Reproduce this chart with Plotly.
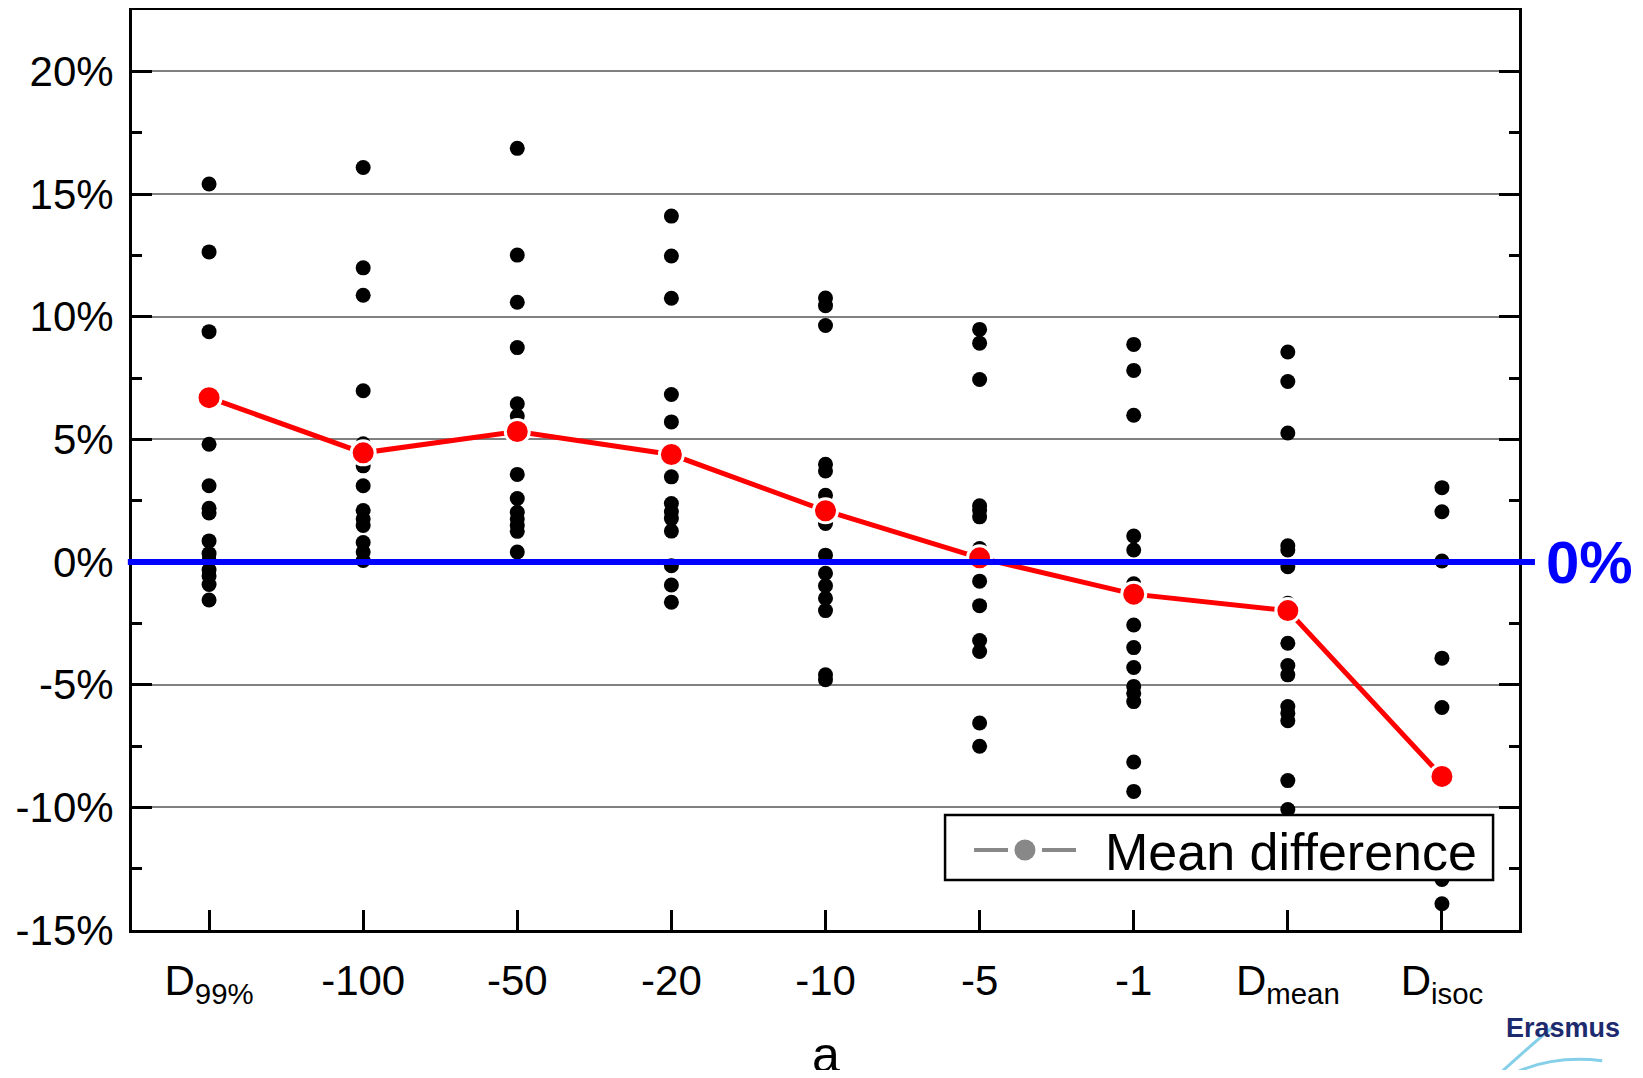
import plotly.graph_objects as go

# ---------------- data (percent) ----------------
categories = ["D<sub>99%</sub>", "-100", "-50", "-20", "-10", "-5", "-1",
              "D<sub>mean</sub>", "D<sub>isoc</sub>"]

d99 = [15.41, 12.64, 9.39, 4.80, 3.11, 2.19, 2.00, 0.86, 0.34, 0.07, -0.32, -0.57, -0.92, -1.55]
a_m100 = [16.08, 11.99, 10.87, 6.98, 4.82, 3.92, 3.11, 2.10, 1.75, 1.49, 0.79, 0.41, 0.06]
a_m50 = [16.86, 12.51, 10.59, 8.74, 6.45, 5.95, 3.57, 2.59, 2.03, 1.75, 1.49, 1.25, 0.41]
a_m20 = [14.10, 12.47, 10.75, 6.83, 5.71, 3.47, 2.38, 2.05, 1.77, 1.26, -0.15, -0.94, -1.64]
a_m10 = [10.76, 10.45, 9.64, 3.98, 3.71, 2.72, 1.57, 0.28, -0.46, -0.97, -1.48, -1.98, -4.60, -4.80]
a_m5 = [9.48, 8.92, 7.44, 2.29, 2.11, 1.84, 0.55, -0.78, -1.78, -3.20, -3.65, -6.56, -7.51]
a_m1 = [8.87, 7.81, 5.98, 1.06, 0.49, -0.89, -2.57, -3.49, -4.30, -5.07, -5.35, -5.69, -8.15, -9.35]
d_mean = [8.56, 7.36, 5.26, 0.66, 0.49, -0.19, -1.68, -3.31, -4.22, -4.60, -5.89, -6.16, -6.47, -8.91, -10.09]
d_isoc = [3.03, 2.05, 0.04, -3.92, -5.93, -12.94, -13.93]

mean_difference = [6.70, 4.45, 5.32, 4.38, 2.09, 0.17, -1.31, -1.98, -8.74]

ytick_vals = [-15, -10, -5, 0, 5, 10, 15, 20]
ytick_text = ["-15%", "-10%", "-5%", "0%", "5%", "10%", "15%", "20%"]

groups = [d99, a_m100, a_m50, a_m20, a_m10, a_m5, a_m1, d_mean, d_isoc]

# ---------------- build ----------------
xs, ys = [], []
for cat, vals in zip(categories, groups):
    xs.extend([cat] * len(vals))
    ys.extend(vals)

FONT = "Liberation Sans, Arial, sans-serif"

fig = go.Figure()
fig.add_trace(go.Scatter(
    x=xs, y=ys, mode="markers",
    marker=dict(color="black", size=15),
    showlegend=False, hoverinfo="y",
))
fig.add_trace(go.Scatter(
    x=categories, y=mean_difference, mode="lines+markers",
    line=dict(color="#ff0000", width=5),
    marker=dict(color="#ff0000", size=24, line=dict(color="white", width=3)),
    showlegend=False, name="Mean difference",
))

# zero reference line (extends slightly outside the frame)
fig.add_shape(type="line", xref="paper", yref="y", x0=-0.003, x1=1.0115, y0=0, y1=0,
              line=dict(color="#0000ff", width=6), layer="above")
fig.add_annotation(xref="paper", yref="y", x=1.0505, y=0, text="<b>0%</b>",
                   showarrow=False, xanchor="center", yanchor="middle",
                   font=dict(family=FONT, size=60, color="#0000ff"))

# legend box (drawn manually to match the original style)
fig.add_shape(type="rect", xref="paper", yref="paper", x0=0.5862, x1=0.9813, y0=0.0543, y1=0.1250,
              line=dict(color="black", width=2.5), fillcolor="white", layer="above")
fig.add_shape(type="line", xref="paper", yref="paper", x0=0.6071, x1=0.6316, y0=0.087, y1=0.087,
              line=dict(color="#888888", width=4), layer="above")
fig.add_shape(type="line", xref="paper", yref="paper", x0=0.6561, x1=0.6806, y0=0.087, y1=0.087,
              line=dict(color="#888888", width=4), layer="above")
fig.add_shape(type="circle", xref="paper", yref="paper", xsizemode="pixel", ysizemode="pixel",
              xanchor=0.6438, yanchor=0.087, x0=-10.5, x1=10.5, y0=-10.5, y1=10.5,
              line=dict(color="#888888", width=0), fillcolor="#888888", layer="above")
fig.add_annotation(xref="paper", yref="paper", x=0.7000, y=0.0848, text="Mean difference",
                   showarrow=False, xanchor="left", yanchor="middle",
                   font=dict(family=FONT, size=52, color="black"))

# x-axis title (placed as annotation so it can sit lower than the axis-title clamp allows)
fig.add_annotation(xref="paper", yref="paper", x=0.5, y=-0.1359, text="a",
                   showarrow=False, xanchor="center", yanchor="middle",
                   font=dict(family=FONT, size=50, color="black"))

# logo (cropped at the edge in the original)
fig.add_annotation(xref="paper", yref="paper", x=0.989, y=-0.1065, text="<b>Erasmus</b>",
                   showarrow=False, xanchor="left", yanchor="middle",
                   font=dict(family=FONT, size=27, color="#1d2b6e"))
fig.add_shape(type="path", xref="paper", yref="paper",
              path="M 1.0245 -0.1054 Q 1.0043 -0.1304 0.9827 -0.1609",
              line=dict(color="#86cfe8", width=3))
fig.add_shape(type="path", xref="paper", yref="paper",
              path="M 0.9899 -0.1609 Q 1.020 -0.1350 1.060 -0.1420",
              line=dict(color="#86cfe8", width=3))

# page body has an 8px margin: shrink figure and margins accordingly
fig.update_layout(
    width=1627, height=1062,
    margin=dict(l=124, r=116, t=2, b=140),
    plot_bgcolor="white", paper_bgcolor="white",
    font=dict(family=FONT, color="black"),
    showlegend=False,
)
fig.update_xaxes(
    type="category", categoryorder="array", categoryarray=categories,
    range=[-0.5, 8.5], automargin=False,
    showline=True, linecolor="black", linewidth=3, mirror=True,
    ticks="inside", ticklen=20, tickwidth=2.5, tickcolor="black",
    tickfont=dict(family=FONT, size=42, color="black"),
    ticklabelstandoff=12,
    showgrid=False, zeroline=False,
)
fig.update_yaxes(
    range=[-15, 22.5], automargin=False,
    tickmode="array", tickvals=ytick_vals, ticktext=ytick_text,
    showline=True, linecolor="black", linewidth=3, mirror="ticks",
    ticks="inside", ticklen=20, tickwidth=3, tickcolor="black",
    tickfont=dict(family=FONT, size=42, color="black"),
    ticklabelstandoff=7,
    showgrid=True, gridcolor="#808080", gridwidth=2,
    zeroline=False,
    minor=dict(tickmode="linear", tick0=-15, dtick=2.5, ticks="inside", ticklen=10,
               tickwidth=3, tickcolor="black", showgrid=False),
)

fig.write_html("out.html")
